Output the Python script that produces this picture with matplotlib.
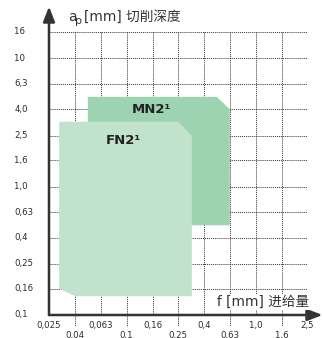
import matplotlib
matplotlib.use("Agg")
import matplotlib.pyplot as plt
from matplotlib.patches import Polygon

plt.rcParams['font.family'] = ['DejaVu Sans', 'Noto Sans CJK SC']

# Axis tick values (R10/5 series)
x_ticks = [0.025, 0.04, 0.063, 0.1, 0.16, 0.25, 0.4, 0.63, 1.0, 1.6, 2.5]
x_labels = ["0,025", "0,04", "0,063", "0,1", "0,16", "0,25", "0,4", "0,63", "1,0", "1,6", "2,5"]
y_ticks = [0.1, 0.16, 0.25, 0.4, 0.63, 1.0, 1.6, 2.5, 4.0, 6.3, 10, 16]
y_labels = ["0,1", "0,16", "0,25", "0,4", "0,63", "1,0", "1,6", "2,5", "4,0", "6,3", "10", "16"]

# Application areas (feed f, depth of cut ap)
mn2_f = [0.05, 0.63, 0.63, 0.5, 0.05]
mn2_ap = [0.5, 0.5, 4.0, 5.0, 5.0]
fn2_f = [0.03, 0.04, 0.32, 0.32, 0.25, 0.03]
fn2_ap = [0.16, 0.14, 0.14, 2.5, 3.2, 3.2]

W, H = 323, 338
fig = plt.figure(figsize=(W / 100, H / 100), dpi=100)
x0, x1 = 49, 307
y0, y1 = 315, 32
ax = fig.add_axes([x0 / W, (H - y0) / H, (x1 - x0) / W, (y0 - y1) / H])
ax.set_xscale('log')
ax.set_yscale('log')
ax.set_xlim(x_ticks[0], x_ticks[-1])
ax.set_ylim(y_ticks[0], y_ticks[-1])
for s in ax.spines.values():
    s.set_visible(False)
ax.set_xticks([])
ax.set_yticks([])
ax.minorticks_off()

grid_kw = dict(color='#333333', lw=0.7, ls=(0, (1, 1)), zorder=1)
for v in x_ticks[1:]:
    ax.plot([v, v], [y_ticks[0], y_ticks[-1]], **grid_kw)
for v in y_ticks[1:]:
    ax.plot([x_ticks[0], x_ticks[-1]], [v, v], **grid_kw)

# tick extensions below the axis for the lower label row
trans = ax.get_xaxis_transform()
for i, v in enumerate(x_ticks):
    if i % 2 == 1:
        ax.plot([v, v], [0, -0.04], transform=trans, clip_on=False, **grid_kw)

ax.add_patch(Polygon(list(zip(mn2_f, mn2_ap)), closed=True, fc='#9dd3b0', ec='none', zorder=2))
ax.add_patch(Polygon(list(zip(fn2_f, fn2_ap)), closed=True, fc='#c1e3cc', ec='none', zorder=3))

ax.text(0.155, 4.0, "MN2¹", fontsize=9.5, fontweight='bold', color='#222222',
        ha='center', va='center', zorder=4)
ax.text(0.094, 2.3, "FN2¹", fontsize=9.5, fontweight='bold', color='#222222',
        ha='center', va='center', zorder=4)

# axes with arrows
ax_col = '#333333'
ax.annotate('', xy=(1.06, 0), xytext=(0, 0), xycoords='axes fraction',
            arrowprops=dict(arrowstyle='-|>,head_length=0.9,head_width=0.35',
                            color=ax_col, lw=1.8, shrinkA=0, shrinkB=0), zorder=5)
ax.annotate('', xy=(0, 1.09), xytext=(0, 0), xycoords='axes fraction',
            arrowprops=dict(arrowstyle='-|>,head_length=0.9,head_width=0.35',
                            color=ax_col, lw=1.8, shrinkA=0, shrinkB=0), zorder=5)

# tick labels
lab_kw = dict(fontsize=6.8, color='#2a2a2a', fontstretch='condensed')
for i, (v, t) in enumerate(zip(x_ticks, x_labels)):
    yy = -0.037 if i % 2 == 0 else -0.074
    ax.text(v, yy, t, transform=trans, ha='center', va='center', **lab_kw)
ytrans = ax.get_yaxis_transform()
for v, t in zip(y_ticks, y_labels):
    ax.text(-0.135, v, t, transform=ytrans, ha='left', va='center', **lab_kw)

# axis titles
title_kw = dict(color='#333333', va='center')
fig.text(68 / W, 1 - 17 / H, "a", fontsize=10, ha='left', **title_kw)
fig.text(75.5 / W, 1 - 21 / H, "p", fontsize=8, ha='left', **title_kw)
fig.text(84 / W, 1 - 17 / H, "[mm] 切削深度", fontsize=9.8, ha='left', **title_kw)
fig.text(309 / W, 1 - 302 / H, "f [mm] 进给量", fontsize=9.8, color='#333333',
         ha='right', va='center',
         bbox=dict(fc='white', ec='none', pad=0.5), zorder=6)

fig.savefig('out.png', dpi=100)
